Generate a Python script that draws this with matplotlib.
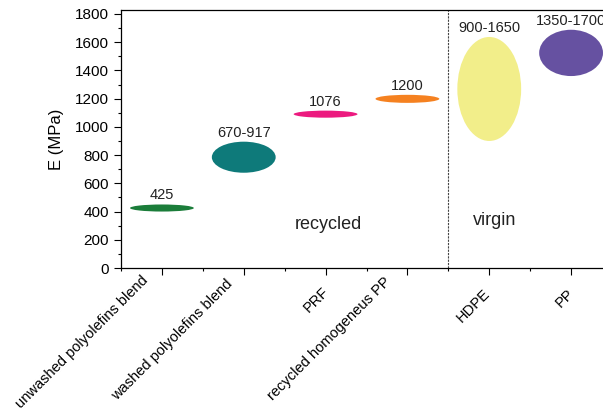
import numpy as np
import matplotlib
matplotlib.use('Agg')
import matplotlib.pyplot as plt
from matplotlib.patches import Ellipse
from matplotlib.ticker import MultipleLocator
import matplotlib.transforms as mtransforms

plt.rcParams['font.family'] = ['Liberation Sans', 'DejaVu Sans']

categories = ['unwashed polyolefins blend', 'washed polyolefins blend', 'PRF',
              'recycled homogeneus PP', 'HDPE', 'PP']
e_low = [400, 675, 1065, 1170, 900, 1360]
e_high = [450, 895, 1115, 1227, 1637, 1688]
labels = ['425', '670-917', '1076', '1200', '900-1650', '1350-1700']
colors = ['#1b7d3a', '#0e7a7a', '#ec1a7f', '#f58120', '#f2ee8a', '#6651a1']

fig = plt.figure(figsize=(6.03, 4.08), dpi=100)
ax = fig.add_axes([121/603, 1 - 268/408, 491/603, 258/408])

x = np.arange(1, len(categories) + 1)
for xi, lo, hi, lab, c in zip(x, e_low, e_high, labels, colors):
    ax.add_patch(Ellipse((xi, (lo + hi) / 2), 0.78, hi - lo, facecolor=c, edgecolor='none'))
    ax.annotate(lab, (xi, hi), xytext=(0, 1.5), textcoords='offset points',
                ha='center', va='bottom', fontsize=10.5, color='#222222')

ax.axvline(4.5, color='#444444', lw=0.8, ls=(0, (2, 1)))
ax.text(3.04, 305, 'recycled', fontsize=13, ha='center', va='center', color='#222222')
ax.text(5.07, 340, 'virgin', fontsize=13, ha='center', va='center', color='#222222')

ax.set_xlim(0.5, 6.5)
ax.set_ylim(0, 1828)
ax.set_xticks(x)
ax.xaxis.set_minor_locator(MultipleLocator(0.5))
ax.yaxis.set_major_locator(MultipleLocator(200))
ax.yaxis.set_minor_locator(MultipleLocator(100))
ax.tick_params(which='major', direction='out', length=5, width=0.8, labelsize=11)
ax.tick_params(which='minor', direction='out', length=2.5, width=0.8)
ax.tick_params(axis='x', which='major', pad=8)
ax.set_ylabel('E (MPa)', fontsize=12, labelpad=8)

ax.set_xticklabels(categories, rotation=45, ha='right', rotation_mode='anchor', fontsize=10.5)
# long labels sit a bit further left/up in the original
shifts = [(-15, 9), (-13, 7), (-3, 1), (-17, 8), (-5, 0), (-3, 0)]
for t, (dx, dy) in zip(ax.get_xticklabels(), shifts):
    t.set_transform(t.get_transform() + mtransforms.ScaledTranslation(dx / 72, dy / 72, fig.dpi_scale_trans))

for s in ax.spines.values():
    s.set_linewidth(0.9)

plt.savefig('out.png', dpi=100)
